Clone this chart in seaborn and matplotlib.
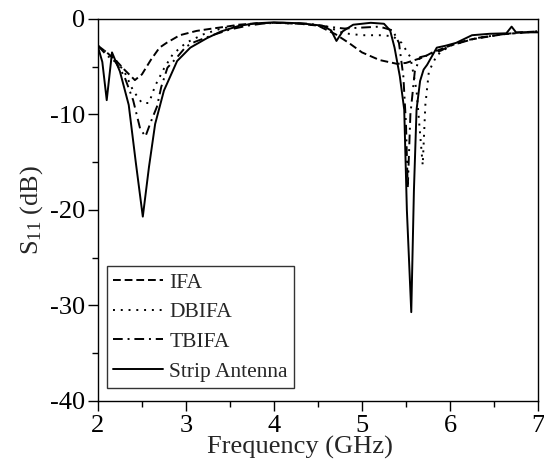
import numpy as np
import pandas as pd
import matplotlib
matplotlib.use("Agg")
import matplotlib.pyplot as plt
from matplotlib.ticker import MultipleLocator
import seaborn as sns

# Measured return loss, one (frequency, S11) list per antenna
ifa_freq = [2.0, 2.1, 2.2, 2.3, 2.42, 2.5, 2.6, 2.7, 2.78, 2.93, 3.12, 3.3, 3.46, 3.6, 3.8,
            4.0, 4.3, 4.5, 4.7, 4.85, 5.0, 5.2, 5.4, 5.5, 5.6, 5.7, 5.8, 6.0, 6.2, 6.4, 6.6,
            6.8, 7.0]
ifa_s11 = [-2.8, -3.5, -4.3, -5.3, -6.4, -5.8, -4.3, -3.0, -2.5, -1.7, -1.25, -1.0, -0.8, -0.6,
           -0.45, -0.4, -0.5, -0.7, -1.6, -2.5, -3.5, -4.3, -4.7, -4.6, -4.3, -4.0, -3.5, -2.8,
           -2.2, -1.9, -1.6, -1.4, -1.3]

dbifa_freq = [2.0, 2.1, 2.2, 2.3, 2.4, 2.5, 2.58, 2.65, 2.75, 2.85, 3.0, 3.2, 3.4, 3.6, 3.8,
              4.0, 4.3, 4.6, 4.8, 5.0, 5.2, 5.35, 5.45, 5.55, 5.62, 5.66, 5.69, 5.72, 5.76,
              5.85, 6.0, 6.3, 6.6, 7.0]
dbifa_s11 = [-2.8, -3.5, -4.3, -5.5, -7.5, -8.8, -8.8, -7.0, -5.2, -3.7, -2.5, -1.6, -1.0, -0.7,
             -0.5, -0.4, -0.5, -0.8, -1.5, -1.7, -1.7, -1.8, -2.5, -4.0, -7.5, -12.0, -15.3,
             -9.0, -5.5, -3.8, -2.8, -2.0, -1.6, -1.3]

tbifa_freq = [2.0, 2.1, 2.2, 2.3, 2.4, 2.48, 2.54, 2.6, 2.67, 2.72, 2.79, 2.9, 3.0, 3.1, 3.3,
              3.5, 3.7, 3.9, 4.1, 4.4, 4.6, 4.8, 5.0, 5.2, 5.35, 5.42, 5.47, 5.5, 5.52, 5.55,
              5.6, 5.66, 5.75, 5.9, 6.0, 6.3, 6.6, 7.0]
tbifa_s11 = [-2.8, -3.8, -4.5, -6.0, -8.5, -11.5, -12.3, -10.8, -9.2, -7.1, -5.1, -4.0, -2.9,
             -2.4, -1.7, -1.1, -0.7, -0.45, -0.4, -0.5, -0.8, -1.0, -0.9, -0.8, -1.2, -2.5,
             -6.0, -11.0, -17.7, -10.0, -5.5, -4.0, -3.8, -3.3, -2.8, -2.0, -1.6, -1.3]

strip_freq = [2.0, 2.05, 2.1, 2.16, 2.25, 2.35, 2.43, 2.51, 2.58, 2.65, 2.75, 2.9, 3.05, 3.24,
              3.4, 3.61, 3.8, 4.0, 4.3, 4.55, 4.65, 4.71, 4.78, 4.9, 5.1, 5.25, 5.32, 5.37,
              5.43, 5.48, 5.51, 5.56, 5.59, 5.62, 5.66, 5.7, 5.74, 5.85, 5.95, 6.07, 6.25,
              6.45, 6.64, 6.7, 6.75, 7.0]
strip_s11 = [-2.9, -4.5, -8.5, -3.5, -5.5, -9.0, -15.0, -20.7, -15.5, -11.0, -7.5, -4.4, -3.0,
             -2.0, -1.3, -0.7, -0.45, -0.35, -0.45, -0.7, -1.2, -2.3, -1.3, -0.6, -0.4, -0.5,
             -1.2, -3.0, -6.0, -9.5, -20.0, -30.7, -18.0, -9.5, -6.5, -5.3, -4.8, -3.0, -2.8,
             -2.5, -1.7, -1.55, -1.5, -0.8, -1.4, -1.4]

labels = ["IFA", "DBIFA", "TBIFA", "Strip Antenna"]

frames = []
for name, f, s in zip(labels,
                      [ifa_freq, dbifa_freq, tbifa_freq, strip_freq],
                      [ifa_s11, dbifa_s11, tbifa_s11, strip_s11]):
    frames.append(pd.DataFrame({"Frequency": f, "S11": s, "Antenna": name}))
df = pd.concat(frames, ignore_index=True)

sns.set_theme(style="ticks")
plt.rcParams["font.family"] = ["Liberation Serif", "DejaVu Serif"]
plt.rcParams["axes.unicode_minus"] = False
plt.rcParams["mathtext.fontset"] = "custom"
plt.rcParams["mathtext.rm"] = "Liberation Serif"
plt.rcParams["mathtext.it"] = "Liberation Serif:italic"

fig = plt.figure(figsize=(5.44, 4.63), dpi=100)
ax = fig.add_axes([0.180, 0.134, 0.809, 0.825])

dash_map = {"IFA": (4, 2), "DBIFA": (1, 3), "TBIFA": (5, 2.5, 1, 2.5), "Strip Antenna": ""}
sns.lineplot(data=df, x="Frequency", y="S11", hue="Antenna", style="Antenna",
             palette=["black"] * 4, dashes=dash_map, hue_order=labels, style_order=labels,
             sort=False, estimator=None, linewidth=1.4, ax=ax, legend=True)

ax.set_xlim(2, 7)
ax.set_ylim(-40, 0)
ax.xaxis.set_major_locator(MultipleLocator(1))
ax.xaxis.set_minor_locator(MultipleLocator(0.5))
ax.yaxis.set_major_locator(MultipleLocator(10))
ax.yaxis.set_minor_locator(MultipleLocator(5))
ax.tick_params(which="both", direction="out", colors="black", labelsize=19, width=1.0)
ax.tick_params(which="major", length=7)
ax.tick_params(which="minor", length=4)
ax.tick_params(axis="x", which="major", pad=3)
ax.tick_params(axis="y", which="major", pad=2)
for side in ax.spines.values():
    side.set_color("black")
    side.set_linewidth(1.0)

ax.set_xlabel("Frequency (GHz)", fontsize=19, va="top")
ax.xaxis.set_label_coords(0.46, -0.092)
ax.set_ylabel(r"S$_{11}$ (dB)", fontsize=19, labelpad=4)

handles, lbls = ax.get_legend_handles_labels()
leg = ax.legend(handles, lbls, loc="lower left", bbox_to_anchor=(0.02, 0.034),
                borderaxespad=0, fontsize=15.5, frameon=True, fancybox=False,
                edgecolor="black", handlelength=2.3, labelspacing=0.44,
                borderpad=0.3, handletextpad=0.3)
leg.get_frame().set_linewidth(1.0)

fig.savefig("out.png", dpi=100)
